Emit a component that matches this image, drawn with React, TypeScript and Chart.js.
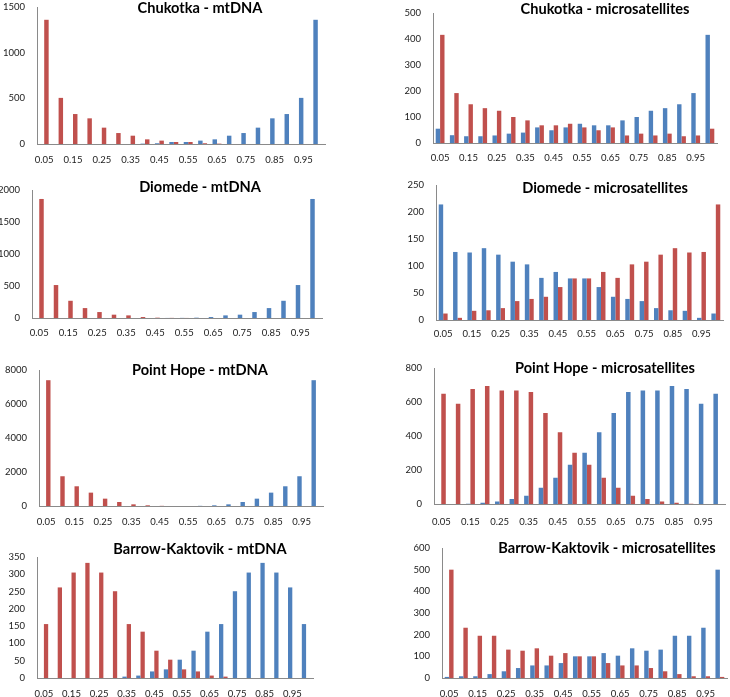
import React, { useEffect, useRef } from "react";
import { Chart, registerables } from "chart.js";

Chart.register(...registerables);

const categories = ["0.05", "0.1", "0.15", "0.2", "0.25", "0.3", "0.35", "0.4", "0.45", "0.5", "0.55", "0.6", "0.65", "0.7", "0.75", "0.8", "0.85", "0.9", "0.95", "1"];

const yStepLabels = { chukMt: 500, chukMs: 100, dioMt: 500, dioMs: 50, phMt: 2000, phMs: 200, bkMt: 50, bkMs: 100 };

const chukotkaMtBlue = [0, 0, 0, 0, 0, 0, 0, 4, 8, 22, 22, 37, 51, 91, 120, 179, 281, 328, 505, 1360];
const chukotkaMtRed = [1360, 505, 328, 281, 179, 120, 91, 51, 37, 22, 22, 8, 4, 0, 0, 0, 0, 0, 0, 0];

const chukotkaMsBlue = [55, 30, 26, 26, 29, 36, 40, 60, 49, 60, 74, 68, 68, 87, 100, 124, 134, 149, 192, 416];
const chukotkaMsRed = [416, 192, 149, 134, 124, 100, 87, 68, 68, 74, 60, 49, 60, 29, 36, 29, 36, 26, 29, 55];

const diomedeMtBlue = [0, 0, 0, 0, 0, 0, 0, 0, 0, 1, 2, 5, 15, 41, 52, 93, 155, 269, 515, 1860];
const diomedeMtRed = [1860, 515, 269, 155, 93, 52, 41, 15, 5, 2, 1, 0, 0, 0, 0, 0, 0, 0, 0, 0];

const diomedeMsBlue = [214, 126, 125, 133, 121, 108, 103, 78, 89, 77, 77, 61, 43, 39, 35, 22, 18, 17, 4, 12];
const diomedeMsRed = [12, 4, 17, 18, 22, 35, 39, 43, 61, 77, 77, 89, 78, 103, 108, 121, 133, 125, 126, 214];

const pointHopeMtBlue = [0, 0, 0, 0, 0, 0, 0, 0, 0, 0, 0, 10, 40, 98, 236, 432, 786, 1160, 1750, 7400];
const pointHopeMtRed = [7400, 1750, 1160, 786, 432, 236, 98, 40, 10, 0, 0, 0, 0, 0, 0, 0, 0, 0, 0, 0];

const pointHopeMsBlue = [0, 0, 2, 8, 14, 29, 49, 96, 155, 231, 302, 422, 535, 659, 667, 667, 694, 677, 590, 648];
const pointHopeMsRed = [648, 590, 677, 694, 667, 667, 659, 535, 422, 302, 231, 155, 96, 49, 29, 14, 8, 2, 0, 0];

const barrowMtBlue = [0, 0, 0, 0, 0, 0, 4, 7, 19, 25, 53, 79, 134, 156, 251, 305, 333, 305, 262, 156];
const barrowMtRed = [156, 262, 305, 333, 305, 251, 156, 134, 79, 53, 25, 19, 7, 4, 0, 0, 0, 0, 0, 0];

const barrowMsBlue = [5, 8, 8, 18, 31, 46, 58, 58, 69, 100, 100, 115, 103, 137, 126, 131, 195, 195, 232, 500];
const barrowMsRed = [500, 232, 195, 195, 131, 126, 137, 103, 115, 100, 100, 69, 58, 58, 46, 31, 18, 8, 8, 5];

const BLUE = "#4F81BD";
const RED = "#C0504D";
const AXIS = "#8A8A8A";
const TICK_FONT = "Lato, 'Liberation Sans', sans-serif";

type PanelSpec = {
  title: string;
  blue: number[];
  red: number[];
  max: number;
  step: number;
  col: number;
  L: number;
  R: number;
  T: number;
  B: number;
  labelY: number;
  titleX: number;
  titleY: number;
};

const panels: PanelSpec[] = [
  { title: "Chukotka - mtDNA", blue: chukotkaMtBlue, red: chukotkaMtRed, max: 1500, step: yStepLabels.chukMt, col: 0, L: 37, R: 325, T: 7, B: 144, labelY: 159, titleX: 200, titleY: 8 },
  { title: "Chukotka - microsatellites", blue: chukotkaMsBlue, red: chukotkaMsRed, max: 500, step: yStepLabels.chukMs, col: 1, L: 433, R: 717, T: 13, B: 143, labelY: 157, titleX: 605, titleY: 9 },
  { title: "Diomede - mtDNA", blue: diomedeMtBlue, red: diomedeMtRed, max: 2000, step: yStepLabels.dioMt, col: 0, L: 32, R: 322, T: 190, B: 318, labelY: 332, titleX: 200, titleY: 187 },
  { title: "Diomede - microsatellites", blue: diomedeMsBlue, red: diomedeMsRed, max: 250, step: yStepLabels.dioMs, col: 1, L: 436, R: 723, T: 185, B: 320, labelY: 333, titleX: 605, titleY: 188 },
  { title: "Point Hope - mtDNA", blue: pointHopeMtBlue, red: pointHopeMtRed, max: 8000, step: yStepLabels.phMt, col: 0, L: 39, R: 323, T: 370, B: 506, labelY: 521, titleX: 200, titleY: 370 },
  { title: "Point Hope - microsatellites", blue: pointHopeMsBlue, red: pointHopeMsRed, max: 800, step: yStepLabels.phMs, col: 1, L: 434, R: 727, T: 368, B: 504, labelY: 521, titleX: 605, titleY: 368 },
  { title: "Barrow-Kaktovik - mtDNA", blue: barrowMtBlue, red: barrowMtRed, max: 350, step: yStepLabels.bkMt, col: 0, L: 37, R: 313, T: 557, B: 678, labelY: 693, titleX: 200, titleY: 549 },
  { title: "Barrow-Kaktovik - microsatellites", blue: barrowMsBlue, red: barrowMsRed, max: 600, step: yStepLabels.bkMs, col: 1, L: 442, R: 727, T: 548, B: 678, labelY: 693, titleX: 607, titleY: 548 },
];

function Panel({ spec }: { spec: PanelSpec }) {
  const ref = useRef<HTMLCanvasElement>(null);
  const x0 = spec.col * 365;
  const y0 = spec.T - 22;
  const w = 365;
  const h = spec.labelY + 12 - y0;

  useEffect(() => {
    if (!ref.current) return;
    const titlePlugin = {
      id: "panelTitle",
      afterDraw(chart: any) {
        const ctx = chart.ctx;
        ctx.save();
        ctx.font = "bold 14.6px Lato, 'Liberation Sans', sans-serif";
        ctx.fillStyle = "#000";
        ctx.textAlign = "center";
        ctx.textBaseline = "middle";
        ctx.fillText(spec.title, spec.titleX - x0, spec.titleY - y0);
        ctx.restore();
      },
    };
    const chart = new Chart(ref.current, {
      type: "bar",
      data: {
        labels: categories,
        datasets: [
          { data: spec.blue, backgroundColor: BLUE, categoryPercentage: 0.62, barPercentage: 1 },
          { data: spec.red, backgroundColor: RED, categoryPercentage: 0.62, barPercentage: 1 },
        ],
      },
      options: {
        animation: false,
        responsive: false,
        layout: { padding: { left: 0, top: spec.T - y0, right: x0 + w - spec.R, bottom: 0 } },
        plugins: { legend: { display: false }, tooltip: { enabled: false }, title: { display: false } },
        scales: {
          x: {
            grid: { display: false, drawTicks: false },
            border: { display: true, color: AXIS, width: 1 },
            ticks: {
              autoSkip: false,
              maxRotation: 0,
              minRotation: 0,
              padding: spec.labelY - spec.B - 5,
              color: "#1a1a1a",
              font: { family: TICK_FONT, size: 9.5 },
              callback: (_v: any, i: number) => (i % 2 === 0 ? categories[i] : ""),
            },
            afterFit: (s: any) => {
              s.height = y0 + h - spec.B;
            },
          },
          y: {
            min: 0,
            max: spec.max,
            grid: { display: false, drawTicks: false },
            border: { display: true, color: AXIS, width: 1 },
            ticks: {
              stepSize: spec.step,
              padding: 12,
              color: "#1a1a1a",
              font: { family: TICK_FONT, size: 9.5 },
              callback: (v: any) => String(v),
            },
            afterFit: (s: any) => {
              s.width = spec.L - x0;
            },
          },
        },
      },
      plugins: [titlePlugin],
    } as any);
    return () => chart.destroy();
  }, []);

  return (
    <canvas
      ref={ref}
      width={w}
      height={h}
      style={{ position: "absolute", left: x0, top: y0, width: w, height: h, display: "block" }}
    />
  );
}

export default function App() {
  return (
    <div style={{ position: "absolute", left: 0, top: 0, width: 730, height: 697, background: "#fff", overflow: "hidden" }}>
      {panels.map((p) => (
        <Panel key={p.title} spec={p} />
      ))}
    </div>
  );
}
